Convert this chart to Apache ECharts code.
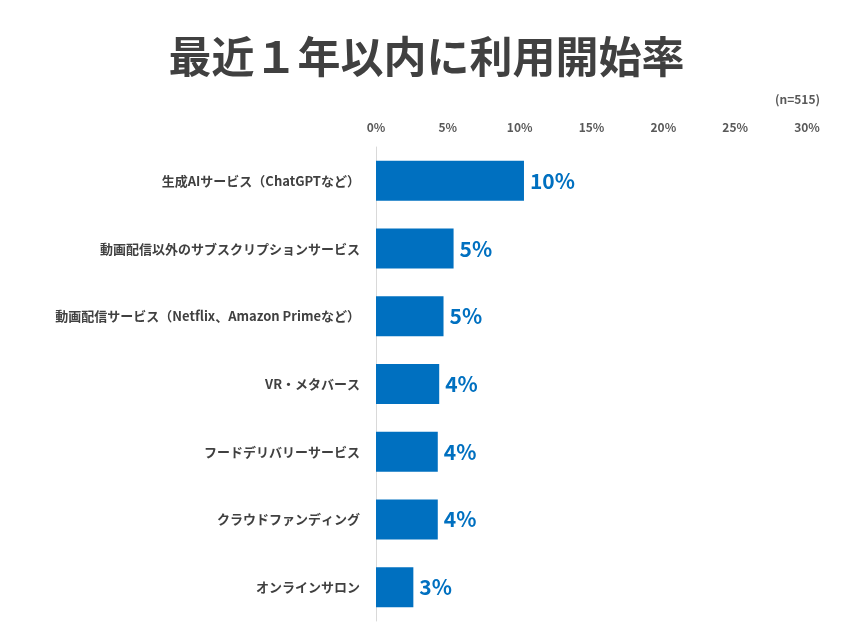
<!DOCTYPE html>
<html><head><meta charset="utf-8">
<script src="https://cdn.jsdelivr.net/npm/echarts@6/dist/echarts.min.js"></script>
<style>html,body{margin:0;padding:0;background:#fff}#c{width:853px;height:640px}</style>
</head><body><div id="c"></div>
<script>
const categories = ["生成AIサービス（ChatGPTなど）","動画配信以外のサブスクリプションサービス","動画配信サービス（Netflix、Amazon Primeなど）","VR・メタバース","フードデリバリーサービス","クラウドファンディング","オンラインサロン"];
const values = [10.3, 5.4, 4.7, 4.4, 4.3, 4.3, 2.6];
const F = '"Noto Sans CJK JP", "Noto Sans", sans-serif';
const chart = echarts.init(document.getElementById('c'));
chart.setOption({
  animation:false,
  title:[{text:'最近１年以内に利用開始率',left:'center',top:30,textStyle:{fontFamily:F,fontSize:43,fontWeight:'bold',color:'#404040'}},
         {text:'(n=515)',right:28,top:88,textStyle:{fontFamily:F,fontSize:12,fontWeight:'bold',color:'#595959'}}],
  grid:{left:376,right:46,top:147,bottom:19},
  xAxis:{type:'value',position:'top',min:0,max:30,interval:5,
    axisLabel:{formatter:'{value}%',fontFamily:F,fontSize:12,fontWeight:'bold',color:'#595959',margin:14},
    splitLine:{show:false},axisLine:{show:false},axisTick:{show:false}},
  yAxis:{type:'category',inverse:true,data:categories,
    axisLine:{show:true,lineStyle:{color:'#d9d9d9'}},axisTick:{show:false},
    axisLabel:{fontFamily:F,fontSize:13,fontWeight:'bold',color:'#404040',margin:16}},
  series:[{type:'bar',data:values,barWidth:40,itemStyle:{color:'#0070c0'},
    label:{show:true,position:'right',distance:6,formatter:p=>Math.round(p.value)+'%',
      fontFamily:F,fontSize:21,fontWeight:'bold',color:'#0070c0'}}]
});
</script></body></html>
